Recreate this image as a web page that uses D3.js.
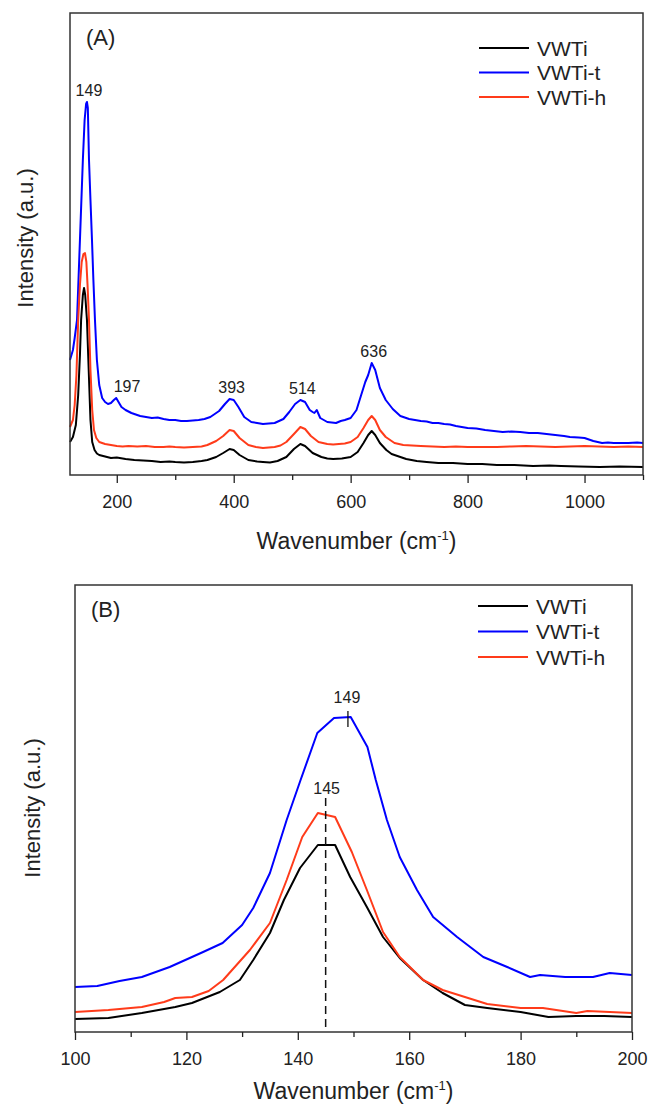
<!DOCTYPE html>
<html>
<head>
<meta charset="utf-8">
<script src="https://cdn.jsdelivr.net/npm/d3@7"></script>
<style>
  body { margin: 0; background: #fff; }
  svg { display: block; font-family: "Liberation Sans", Arial, sans-serif; }
</style>
</head>
<body>
<div id="chart"></div>
<script>
// ---- data (arbitrary intensity units) ----
const seriesNames = ["VWTi", "VWTi-t", "VWTi-h"];
const seriesColors = ["#000000", "#0000ff", "#ff3b1a"];

// panel A: full Raman spectra, [wavenumber, intensity]
const vwtiA = [[120,33],[125,38],[130,50],[134,80],[137,120],[139,155],[142,180],[144,187],[146,180],[149,155],[152,105],[155,55],[158,33],[162,25],[166,21.5],[170,20],[180,18.5],[190,17],[200,17.5],[215,16],[230,15],[245,14.5],[260,14],[275,13],[290,13.5],[300,13],[315,12.5],[330,13],[345,14],[355,15],[370,18],[382,22],[393,26],[400,25],[410,20],[425,15],[440,13.5],[450,13],[462,12.5],[475,14],[490,18],[503,26],[514,31],[522,29],[535,22],[550,18],[560,16.5],[570,16],[585,16.5],[600,18],[612,23],[622,32],[630,40],[636,44],[642,40],[650,32],[661,25],[670,21],[680,19],[695,16],[713,14],[730,13],[750,12],[775,12],[800,11],[825,11],[850,10],[880,10],[912,9],[940,9.5],[960,9],[990,8.5],[1026,8],[1060,8.5],[1100,8]];
const vwtiTA = [[120,115],[125,125],[128,137],[132,155],[137,235],[142,315],[145,355],[147.5,371],[149,373],[150.5,367],[152.5,315],[155,275],[157.6,235],[160,195],[162.7,155],[166,115],[170,90],[175,77],[180,73],[185,71],[190,72],[195,75],[199,77],[203,73],[208,68],[215,65],[225,62],[240,59],[250,58],[260,57],[270,57.5],[280,56],[290,55],[300,55],[310,54],[320,54],[330,54.5],[340,55],[350,56],[360,58],[375,64],[385,71],[393,76],[400,75],[408,68],[418,58],[430,53],[440,52],[450,51],[460,51.5],[470,52],[485,56],[495,63],[505,71],[514,75],[522,73],[530,65],[535,63],[538,62],[542,65],[548,57],[560,53],[575,52],[583,54],[590,55],[600,57],[610,65],[618,80],[625,93],[630,100],[636,112],[642,105],[650,87],[660,75],[672,66],[685,59],[700,56],[710,55],[720,54],[730,53.5],[740,52],[750,52],[760,51],[770,50.5],[780,49],[790,48],[800,47],[815,46.5],[830,45],[845,44],[860,43],[875,43.5],[890,43],[905,42],[920,42],[935,41],[950,40],[965,39],[975,38],[990,37.5],[1000,37],[1015,34],[1030,32],[1040,32.5],[1050,32],[1065,32],[1075,32],[1090,32.5],[1100,32]];
const vwtiHA = [[120,48],[125,55],[128,70],[131,100],[134,155],[137,190],[140,213],[143,221],[145.6,222],[148,213],[150,190],[152.5,155],[155,105],[158,65],[161,45],[165,37],[170,33],[180,31],[190,30],[200,29],[210,28.5],[220,29],[235,28.5],[250,29],[265,28],[280,28],[290,28.5],[300,28],[315,27.5],[330,28],[345,28.5],[355,30],[370,34],[382,39],[393,45],[400,44],[410,37],[425,30],[438,28],[450,27],[460,27.5],[470,28],[480,29.5],[490,33],[503,41],[514,48],[522,46],[532,39],[545,33],[560,31],[570,30.5],[580,31],[590,31.5],[600,33],[612,38],[622,47],[630,55],[636,59],[642,55],[650,45],[660,38],[675,32],[690,30],[705,29.5],[720,29],[740,28.5],[760,28],[780,28.5],[800,28],[825,28],[850,28],[875,28.5],[900,29],[925,28.5],[950,28],[975,28.5],[1000,29],[1025,28.5],[1050,28],[1075,28.5],[1100,28]];

// panel B: zoom on the 149 band
const vwtiB = [[100,13],[106,14],[112,19],[118,25],[121,29],[126,40],[129.6,52],[132,72],[135,99],[137.5,132],[140.4,164],[143.6,187],[146.7,187],[149.4,155],[152.4,125],[155.3,95],[158.3,74],[162.5,52],[166,39],[170,27],[174,24],[180,20],[185,15],[190,16],[195,16],[200,15]];
const vwtiTB = [[100,45],[104,46],[108,51],[112,55],[117,65],[123,80],[126.5,89],[130,107],[132,124],[135,159],[138,212],[140.5,252],[143.5,299],[146.5,314],[149.5,315],[152.5,285],[154,252],[156,212],[158.3,175],[161.4,142],[164.3,115],[168.6,95],[173.3,75],[177.6,65],[181.7,55],[183.5,57],[188,55],[193,55],[196,59],[200,57]];
const vwtiHB = [[100,20],[106,22],[112,25],[116,30],[118,34],[121,35],[124,41],[126.6,52],[131.4,82],[135,109],[138,152],[140.8,195],[143.6,219],[146.7,215],[149.7,180],[152.4,142],[155.3,100],[158.3,75],[162.5,52],[166,42],[170,35],[174,28],[180,24],[184,24],[190,19],[192,21],[200,19]];

const ticksA = [200, 400, 600, 800, 1000];
const minorA = [300, 500, 700, 900, 1100];
const ticksB = [100, 120, 140, 160, 180, 200];
const minorB = [110, 130, 150, 170, 190];

// peak labels
const peaksA = [[149, 373, "149"], [197, 77, "197"], [393, 76, "393"], [514, 75, "514"], [636, 112, "636"]];
const peakB = [149, 315, "149"];
const lineB = [145, 219, "145"];

// ---- drawing ----
const W = 649, H = 1106;
const svg = d3.select("#chart").append("svg")
    .attr("width", W)
    .attr("height", H);

function drawPanel(o) {
    const x = d3.scaleLinear().domain(o.xDomain).range([o.left, o.right]);
    const y = d3.scaleLinear().domain(o.yDomain).range([o.bottom, o.top]);
    const g = svg.append("g");

    const line = d3.line().x(d => x(d[0])).y(d => y(d[1]));
    o.series.forEach((s, i) => {
        g.append("path")
            .datum(s)
            .attr("fill", "none")
            .attr("stroke", seriesColors[i])
            .attr("stroke-width", 2)
            .attr("stroke-linejoin", "round")
            .attr("d", line);
    });

    // frame
    g.append("rect")
        .attr("x", o.left).attr("y", o.top)
        .attr("width", o.right - o.left).attr("height", o.bottom - o.top)
        .attr("fill", "none")
        .attr("stroke", "#333")
        .attr("stroke-width", 1.5);

    // minor ticks
    g.append("g")
        .attr("transform", `translate(0,${o.bottom})`)
        .call(d3.axisBottom(x).tickValues(o.minor).tickSize(5).tickFormat(""))
        .call(a => a.select(".domain").remove())
        .call(a => a.selectAll("line").attr("stroke", "#222").attr("stroke-width", 1.3));

    // major ticks
    g.append("g")
        .attr("transform", `translate(0,${o.bottom})`)
        .call(d3.axisBottom(x).tickValues(o.ticks).tickSize(8).tickFormat(d3.format("d")))
        .call(a => a.select(".domain").remove())
        .call(a => a.selectAll("line").attr("stroke", "#222").attr("stroke-width", 1.3))
        .call(a => a.selectAll("text")
            .attr("y", 33).attr("dy", 0)
            .attr("font-size", 18)
            .attr("font-family", "Liberation Sans, Arial, sans-serif")
            .attr("fill", "#222"));

    // x title
    const xt = g.append("text")
        .attr("x", (o.left + o.right) / 2)
        .attr("y", o.bottom + o.xTitleDy)
        .attr("text-anchor", "middle")
        .attr("font-size", 23)
        .attr("fill", "#222");
    xt.append("tspan").text("Wavenumber (cm");
    xt.append("tspan").attr("font-size", 13).attr("dy", -9).text("-1");
    xt.append("tspan").attr("dy", 9).text(")");

    // y title
    g.append("text")
        .attr("transform", `translate(${o.yTitleX},${o.yTitleY}) rotate(-90)`)
        .attr("text-anchor", "middle")
        .attr("font-size", 22)
        .attr("fill", "#222")
        .text("Intensity (a.u.)");

    // panel letter
    g.append("text")
        .attr("x", o.left + 16).attr("y", o.top + 32)
        .attr("font-size", 22)
        .attr("fill", "#222")
        .text(o.letter);

    // legend
    const lg = g.append("g");
    seriesNames.forEach((n, i) => {
        const ly = o.legendY + i * o.legendGap;
        lg.append("line")
            .attr("x1", o.legendX).attr("x2", o.legendX + 50)
            .attr("y1", ly).attr("y2", ly)
            .attr("stroke", seriesColors[i]).attr("stroke-width", 2);
        lg.append("text")
            .attr("x", o.legendX + 58).attr("y", ly + 7.5)
            .attr("font-size", 21)
            .attr("fill", "#222")
            .text(n);
    });

    return {g, x, y};
}

// panel A
const pA = drawPanel({
    left: 70, right: 643, top: 13, bottom: 475,
    xDomain: [120, 1100], yDomain: [0, 462],
    series: [vwtiA, vwtiTA, vwtiHA],
    ticks: ticksA, minor: minorA,
    xTitleDy: 74, yTitleX: 33, yTitleY: 238,
    letter: "(A)",
    legendX: 479, legendY: 48, legendGap: 24.5
});
pA.g.selectAll(".peak")
    .data(peaksA)
    .enter().append("text")
    .attr("class", "peak")
    .attr("x", d => pA.x(d[0]) + (d[2] === "197" ? 12 : 2))
    .attr("y", d => pA.y(d[1]) - 6)
    .attr("text-anchor", "middle")
    .attr("font-size", 16)
    .attr("fill", "#222")
    .text(d => d[2]);

// panel B
const pB = drawPanel({
    left: 75, right: 632, top: 585, bottom: 1032,
    xDomain: [100, 200], yDomain: [0, 447],
    series: [vwtiB, vwtiTB, vwtiHB],
    ticks: ticksB, minor: minorB,
    xTitleDy: 67, yTitleX: 40, yTitleY: 808,
    letter: "(B)",
    legendX: 478, legendY: 606, legendGap: 25.5
});
// dashed marker at 145
pB.g.append("line")
    .attr("x1", pB.x(lineB[0])).attr("x2", pB.x(lineB[0]))
    .attr("y1", pB.y(lineB[1]) - 15).attr("y2", pB.y(0))
    .attr("stroke", "#111").attr("stroke-width", 1.5)
    .attr("stroke-dasharray", "8,5");
pB.g.append("text")
    .attr("x", pB.x(lineB[0]) + 1).attr("y", pB.y(lineB[1]) - 19)
    .attr("text-anchor", "middle")
    .attr("font-size", 16).attr("fill", "#222")
    .text(lineB[2]);
// short tick at the 149 maximum
pB.g.append("line")
    .attr("x1", pB.x(peakB[0])).attr("x2", pB.x(peakB[0]))
    .attr("y1", pB.y(peakB[1]) - 6).attr("y2", pB.y(peakB[1]) + 10)
    .attr("stroke", "#111").attr("stroke-width", 1.3);
pB.g.append("text")
    .attr("x", pB.x(peakB[0]) - 1).attr("y", pB.y(peakB[1]) - 14)
    .attr("text-anchor", "middle")
    .attr("font-size", 16).attr("fill", "#222")
    .text(peakB[2]);
</script>
</body>
</html>
